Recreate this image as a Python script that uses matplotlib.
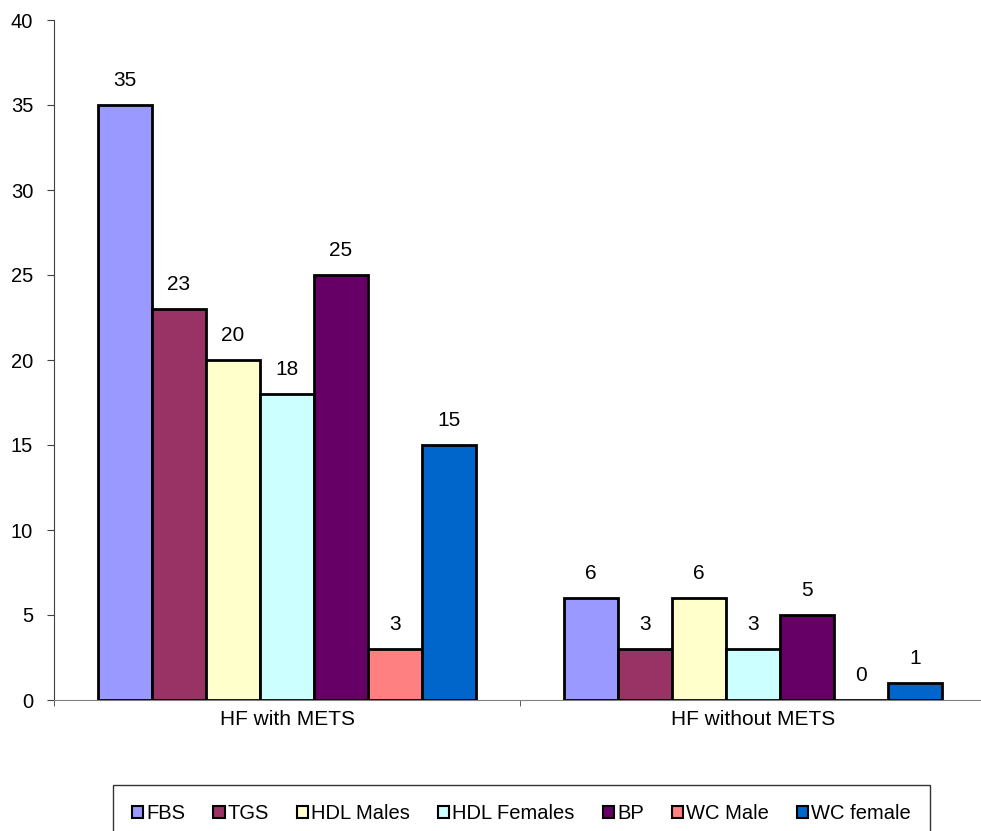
import matplotlib.pyplot as plt
import numpy as np

plt.rcParams['font.family'] = ['Liberation Sans', 'DejaVu Sans']

# groups on the x axis and one series per criterion
groups = ["HF with METS", "HF without METS"]
series = ["FBS", "TGS", "HDL Males", "HDL Females", "BP", "WC Male", "WC female"]
fbs = [35, 6]
tgs = [23, 3]
hdl_males = [20, 6]
hdl_females = [18, 3]
bp = [25, 5]
wc_male = [3, 0]
wc_female = [15, 1]
values = [fbs, tgs, hdl_males, hdl_females, bp, wc_male, wc_female]
colors = ["#9999FF", "#993366", "#FFFFCC", "#CCFFFF", "#660066", "#FF8080", "#0066CC"]

fig = plt.figure(figsize=(9.81, 8.31), dpi=100)
ax = fig.add_axes([54 / 981, 131 / 831, 932 / 981, 680 / 831])

x = np.arange(len(groups))
w = 0.116
n = len(series)
for i, (name, vals, c) in enumerate(zip(series, values, colors)):
    pos = x + (i - (n - 1) / 2) * w
    ax.bar(pos, vals, width=w, color=c, edgecolor="black", linewidth=2,
           label=name, zorder=3)
    for px, v in zip(pos, vals):
        ax.annotate(str(v), (px, v), xytext=(0, 17.5), textcoords="offset points",
                    ha="center", va="center", fontsize=15)

ax.set_xlim(-0.5, len(groups) - 0.5)
ax.set_ylim(0, 40)
ax.set_yticks(range(0, 41, 5))
ax.set_xticks(x)
ax.set_xticklabels(groups)
ax.set_xticks(np.arange(-0.5, len(groups), 1), minor=True)
ax.tick_params(axis="x", which="major", length=0, pad=7, labelsize=15)
ax.tick_params(axis="x", which="minor", length=4.5, direction="out", color="#404040")
ax.tick_params(axis="y", length=5, direction="out", labelsize=14.5, pad=10,
               color="#404040")

for s in ["top", "right"]:
    ax.spines[s].set_visible(False)
ax.spines["left"].set_color("#404040")
ax.spines["bottom"].set_color("#808080")

leg = fig.legend(loc="upper left", bbox_to_anchor=(113 / 981, 1 - 785 / 831), ncol=n,
                 fontsize=14.5, handlelength=0.55, handleheight=0.55, handletextpad=0.15,
                 columnspacing=1.4, fancybox=False, edgecolor="black",
                 borderpad=0.95, borderaxespad=0)
leg.get_frame().set_linewidth(1.0)
for h in leg.legend_handles:
    h.set_linewidth(1.5)

fig.savefig("out.png", dpi=100)
